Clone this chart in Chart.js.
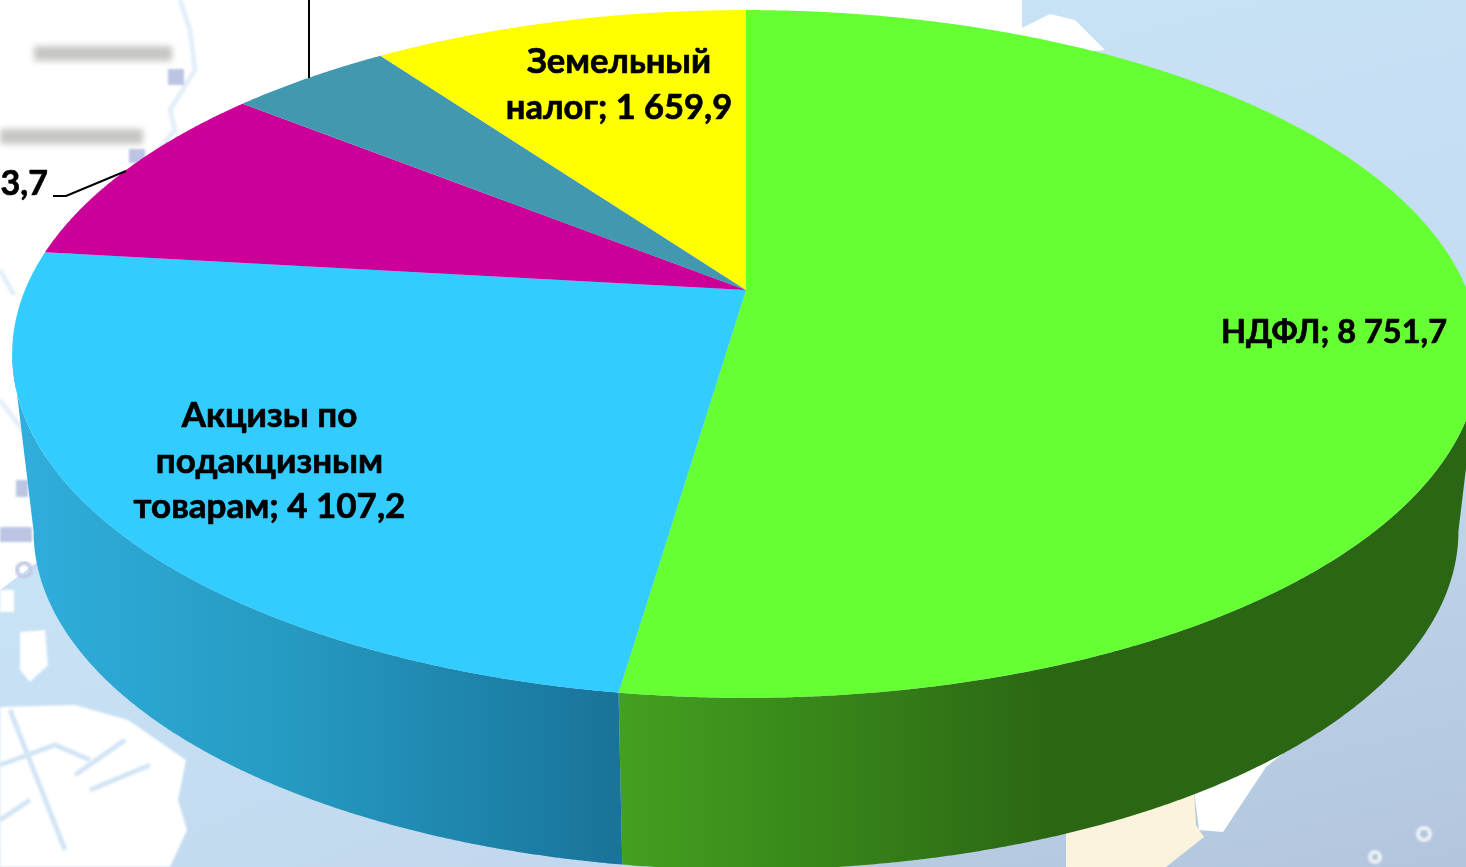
<!DOCTYPE html>
<html lang="ru">
<head>
<meta charset="utf-8">
<title>Налоговые доходы</title>
<script src="https://cdn.jsdelivr.net/npm/chart.js@4"></script>
<style>
html,body{margin:0;padding:0;background:#c6e0f5;overflow:hidden}
#wrap{position:relative;width:1466px;height:867px;overflow:hidden}
#map{position:absolute;left:0;top:0}
#c{position:absolute;left:0;top:0}
</style>
</head>
<body>
<div id="wrap">
<svg id="map" width="1466" height="867" viewBox="0 0 1466 867" aria-hidden="true">
  <defs>
    <linearGradient id="sea" x1="0.6" y1="0" x2="1" y2="1">
      <stop offset="0" stop-color="#c8e2f6"/>
      <stop offset="0.45" stop-color="#c4dcf1"/>
      <stop offset="1" stop-color="#b2c5dc"/>
    </linearGradient>
    <linearGradient id="seaL" x1="0" y1="0" x2="1" y2="1">
      <stop offset="0" stop-color="#c9e3f6"/>
      <stop offset="1" stop-color="#c0d6ec"/>
    </linearGradient>
    <filter id="b3"><feGaussianBlur stdDeviation="3"/></filter>
    <filter id="b1"><feGaussianBlur stdDeviation="1.2"/></filter>
  </defs>
  <rect width="1466" height="867" fill="url(#sea)"/>
  <rect x="0" y="570" width="700" height="297" fill="url(#seaL)"/>
  <!-- northern land -->
  <polygon points="0,0 1022,0 1022,28 1050,14 1075,20 1105,50 1000,60 700,200 300,200 60,260 40,560 0,590" fill="#fff"/>
  <polygon points="0,590 14,590 14,612 0,612" fill="#fff" filter="url(#b1)"/>
  <polygon points="20,632 45,630 48,665 30,682 20,670" fill="#fff" filter="url(#b1)"/>
  <!-- southwestern land -->
  <polygon points="0,707 75,705 128,720 186,760 178,800 187,830 170,867 0,867" fill="#fff" filter="url(#b1)"/>
  <g stroke="#d3e5f6" stroke-width="5" fill="none" filter="url(#b1)">
    <path d="M10,710 L65,850"/><path d="M0,765 L55,745 L90,760"/><path d="M30,800 L0,820"/>
    <path d="M75,775 L125,740"/><path d="M90,790 L150,765"/>
  </g>
  <!-- rivers on the northern land -->
  <g stroke="#e4effa" stroke-width="5" fill="none" filter="url(#b1)">
    <path d="M180,0 L190,30 L195,70 L170,110 L175,130 L150,160"/>
    <path d="M0,270 L14,295"/>
    <path d="M0,400 L30,440"/>
  </g>
  <!-- blurred map captions -->
  <g filter="url(#b3)" fill="#c6c6c2">
    <rect x="34" y="46" width="138" height="15"/>
    <rect x="0" y="129" width="143" height="15"/>
  </g>
  <g filter="url(#b1)" fill="#bcc6e4">
    <rect x="168" y="69" width="16" height="16"/>
    <rect x="129" y="149" width="16" height="14"/>
    <rect x="16" y="480" width="12" height="17"/>
    <rect x="0" y="527" width="32" height="15"/>
  </g>
  <circle cx="24" cy="570" r="7" fill="none" stroke="#c2cae6" stroke-width="4" filter="url(#b1)"/>
  <!-- southeastern land -->
  <polygon points="1194,790 1326,720 1266,767 1223,832 1199,830" fill="#fff"/>
  <polygon points="1066,832 1194,790 1196,825 1204,837 1166,867 1066,867" fill="#fbf3dc"/>
  <g fill="none" stroke="#eef1f6" stroke-width="4" filter="url(#b1)">
    <circle cx="1424" cy="834" r="6"/>
    <circle cx="1375" cy="857" r="5"/>
  </g>
</svg>
<canvas id="c" width="1466" height="867"></canvas>
</div>
<script>
// Visible labels of the slices; names of two slices lie outside the picture.
const categories = ['НДФЛ', 'Акцизы по подакцизным товарам', 'Категория вне кадра 1', 'Категория вне кадра 2', 'Земельный налог'];
const taxValues = [8751.7, 4107.2, 1493.7, 720.0, 1659.9];
const topColors = ['#66FF33', '#33CCFF', '#CC0099', '#4198AF', '#FFFF00'];
const wallStops = [
  [[620, '#44A020'], [1060, '#2A6613']],
  [[20, '#30AEDC'], [300, '#2599C0'], [620, '#19739A']],
  [[0, '#8A0068'], [100, '#8A0068']],
  [[0, '#2C6A7A'], [100, '#2C6A7A']],
  [[0, '#AAAA00'], [100, '#AAAA00']]
];
const labelLines = [
  ['НДФЛ; 8 751,7'],
  ['Акцизы по', 'подакцизным', 'товарам; 4 107,2'],
  ['3,7'],
  [],
  ['Земельный', 'налог; 1 659,9']
];
const labelPos = [
  {x: 1334, y: 343, align: 'center', size: 32.5},
  {x: 269.5, y: 427, align: 'center', size: 35},
  {x: 48, y: 195, align: 'right', size: 34},
  {x: 0, y: 0, align: 'center', size: 34},
  {x: 619, y: 73, align: 'center', size: 34.5}
];
const leaders = [
  [[53, 196], [66, 196], [126, 171]],
  [[309, 0], [309, 78]]
];
const topDisc = {cx: 746, cy: 290, rx: 721, ry: 332, p: 0.186};
const baseDisc = {cx: 746, cy: 468, rx: 700, ry: 327, p: 0.186};
const lineHeight = 45.5;

function project(d, t) {
  const u = Math.sin(t), v = -Math.cos(t), s = 1 - d.p * v;
  return [d.cx + d.rx * u / s, d.cy + d.ry * v / s];
}
function tracePath(ctx, d, a, b, first) {
  const n = Math.max(2, Math.ceil(Math.abs(b - a) / 0.004));
  for (let i = 0; i <= n; i++) {
    const q = project(d, a + (b - a) * i / n);
    if (i === 0 && first) ctx.moveTo(q[0], q[1]); else ctx.lineTo(q[0], q[1]);
  }
}
const projectedPie = {
  id: 'projectedPie',
  beforeDatasetDraw(chart, args) {
    const ctx = chart.ctx;
    const arcs = chart.getDatasetMeta(args.index).data;
    const wallA = Math.PI / 2 + Math.asin(topDisc.p);
    const wallB = 3 * Math.PI / 2 - Math.asin(topDisc.p);
    ctx.save();
    arcs.forEach((arc, i) => {
      const a = Math.max(arc.startAngle + Math.PI / 2, wallA);
      const b = Math.min(arc.endAngle + Math.PI / 2, wallB);
      if (b <= a) return;
      const stops = wallStops[i];
      const g = ctx.createLinearGradient(stops[0][0], 0, stops[stops.length - 1][0], 0);
      stops.forEach(s => g.addColorStop((s[0] - stops[0][0]) / (stops[stops.length - 1][0] - stops[0][0]), s[1]));
      ctx.beginPath();
      tracePath(ctx, topDisc, a, b, true);
      tracePath(ctx, baseDisc, b, a, false);
      ctx.closePath();
      ctx.fillStyle = g;
      ctx.fill();
    });
    arcs.forEach((arc, i) => {
      const a = arc.startAngle + Math.PI / 2, b = arc.endAngle + Math.PI / 2;
      ctx.beginPath();
      ctx.moveTo(topDisc.cx, topDisc.cy);
      tracePath(ctx, topDisc, a, b, false);
      ctx.closePath();
      ctx.fillStyle = topColors[i];
      ctx.fill();
    });
    ctx.restore();
    return false;
  },
  afterDatasetsDraw(chart) {
    const ctx = chart.ctx;
    ctx.save();
    ctx.strokeStyle = '#000';
    ctx.lineWidth = 2;
    leaders.forEach(l => {
      ctx.beginPath();
      l.forEach((q, i) => i ? ctx.lineTo(q[0], q[1]) : ctx.moveTo(q[0], q[1]));
      ctx.stroke();
    });
    ctx.fillStyle = '#000';
    ctx.lineWidth = 0.7;
    ctx.lineJoin = 'round';
    ctx.textBaseline = 'alphabetic';
    labelLines.forEach((lines, i) => {
      ctx.textAlign = labelPos[i].align;
      ctx.font = 'bold ' + labelPos[i].size + 'px Lato, "Open Sans", "Noto Sans", sans-serif';
      lines.forEach((t, k) => {
        ctx.fillText(t, labelPos[i].x, labelPos[i].y + k * lineHeight);
        ctx.strokeText(t, labelPos[i].x, labelPos[i].y + k * lineHeight);
      });
    });
    ctx.restore();
  }
};
new Chart(document.getElementById('c'), {
  type: 'pie',
  data: {labels: categories, datasets: [{data: taxValues, backgroundColor: topColors, borderWidth: 0}]},
  options: {
    responsive: false,
    animation: false,
    events: [],
    plugins: {legend: {display: false}, tooltip: {enabled: false}, title: {display: false}}
  },
  plugins: [projectedPie]
});
</script>
</body>
</html>
